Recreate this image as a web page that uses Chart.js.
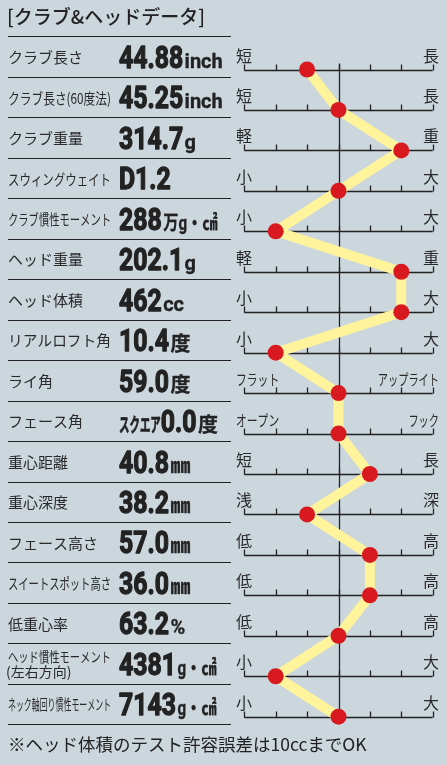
<!DOCTYPE html>
<html><head><meta charset="utf-8">
<script src="https://cdn.jsdelivr.net/npm/chart.js@4.4.1/dist/chart.umd.min.js"></script>
<style>
html,body{margin:0;padding:0;background:#cbd6dd;}
#wrap{position:relative;width:447px;height:765px;}
</style></head>
<body><div id="wrap"><canvas id="c" width="447" height="765"></canvas></div>
<script>
const TITLE = "[クラブ&ヘッドデータ]";
const NOTE = "※ヘッド体積のテスト許容誤差は10ccまでOK";
const categories = ["クラブ長さ","クラブ長さ(60度法)","クラブ重量","スウィングウェイト","クラブ慣性モーメント","ヘッド重量","ヘッド体積","リアルロフト角","ライ角","フェース角","重心距離","重心深度","フェース高さ","スイートスポット高さ","低重心率","ヘッド慣性モーメント\n(左右方向)","ネック軸回り慣性モーメント"];
const valuePrefixes = ["","","","","","","","","","スクエア","","","","","","",""];
const valueNumbers = ["44.88","45.25","314.7","D1.2","288","202.1","462","10.4","59.0","0.0","40.8","38.2","57.0","36.0","63.2","4381","7143"];
const valueUnits = ["inch","inch","g","","万g・㎠","g","cc","度","度","度","㎜","㎜","㎜","㎜","%","g・㎠","g・㎠"];
const leftScaleLabels = ["短","短","軽","小","小","軽","小","小","フラット","オープン","短","浅","低","低","低","小","小"];
const rightScaleLabels = ["長","長","重","大","大","重","大","大","アップライト","フック","長","深","高","高","高","大","大"];
const scores = [-1,0,2,0,-2,2,2,-2,0,0,1,-1,1,1,0,-2,0];
const tickValues = [-3,-2,-1,0,1,2,3];

const BG = "#cbd6dd", INK = "#222222";
const CJK = "'Noto Sans CJK JP'";

function drawScaled(ctx, text, x, y, sx, stroke){
  ctx.save(); ctx.translate(x, y); ctx.scale(sx, 1);
  if (stroke) { ctx.lineWidth = stroke; ctx.lineJoin = 'round'; ctx.strokeText(text, 0, 0); }
  ctx.fillText(text, 0, 0); ctx.restore();
  return ctx.measureText(text).width * sx;
}

const panelPlugin = {
  id: 'panel',
  beforeDraw(chart){
    const ctx = chart.ctx;
    ctx.save(); ctx.fillStyle = BG; ctx.fillRect(0,0,chart.width,chart.height); ctx.restore();
  },
  beforeDatasetsDraw(chart){
    const ctx = chart.ctx, xs = chart.scales.x, ys = chart.scales.y;
    const x0 = xs.getPixelForValue(tickValues[0]), x1 = xs.getPixelForValue(tickValues[tickValues.length-1]);
    ctx.save();
    ctx.strokeStyle = INK; ctx.lineWidth = 1.3;
    categories.forEach((c, i) => {
      const y = Math.round(ys.getPixelForValue(i)) + 0.5;
      ctx.beginPath(); ctx.moveTo(x0, y); ctx.lineTo(x1, y); ctx.stroke();
      tickValues.forEach(t => {
        const tx = Math.round(xs.getPixelForValue(t)) + 0.5;
        ctx.beginPath(); ctx.moveTo(tx, y); ctx.lineTo(tx, y - 6); ctx.stroke();
      });
      ctx.fillStyle = "#2a2a2a"; ctx.textBaseline = 'middle';
      const l = leftScaleLabels[i], r = rightScaleLabels[i];
      if (l.length > 1) {
        ctx.font = "15px " + CJK; ctx.textAlign = 'left';
        drawScaled(ctx, l, 236, y - 14, 0.72);
      } else { ctx.font = "16px " + CJK; ctx.textAlign = 'left'; ctx.fillText(l, 236, y - 15); }
      if (r.length > 1) {
        ctx.font = "15px " + CJK; ctx.textAlign = 'right';
        drawScaled(ctx, r, 439, y - 14, 0.68);
      } else { ctx.font = "16px " + CJK; ctx.textAlign = 'right'; ctx.fillText(r, 439, y - 15); }
    });
    const cx = Math.round(xs.getPixelForValue(0)) + 0.5;
    ctx.beginPath();
    ctx.moveTo(cx, ys.getPixelForValue(0) - 6);
    ctx.lineTo(cx, ys.getPixelForValue(categories.length - 1));
    ctx.stroke();
    ctx.restore();
  },
  afterDraw(chart){
    const ctx = chart.ctx, ys = chart.scales.y;
    ctx.save();
    ctx.fillStyle = INK; ctx.strokeStyle = INK; ctx.lineWidth = 1.2;
    ctx.font = "500 19px " + CJK; ctx.textBaseline = 'middle'; ctx.textAlign = 'left';
    ctx.fillText(TITLE, 7, 17);
    const top = Math.round(ys.getPixelForValue(0) - 33.5) + 0.5;
    ctx.beginPath(); ctx.moveTo(8, top); ctx.lineTo(231, top); ctx.stroke();
    categories.forEach((c, i) => {
      const ay = ys.getPixelForValue(i);
      const cy = ay - 13;
      const dy = Math.round(ay + 7.5) + 0.5;
      ctx.lineWidth = 1.2; ctx.strokeStyle = INK;
      ctx.beginPath(); ctx.moveTo(8, dy); ctx.lineTo(231, dy); ctx.stroke();
      ctx.fillStyle = "#2a2a2a"; ctx.textAlign = 'left'; ctx.textBaseline = 'middle';
      const lines = c.split("\n");
      if (lines.length > 1) {
        ctx.font = "14px " + CJK;
        ctx.fillText(lines[0], 8, cy - 7, 103);
        ctx.fillText(lines[1], 6, cy + 8, 103);
      } else {
        ctx.font = "15px " + CJK;
        ctx.fillText(c, 8, cy + 1, 103);
      }
      ctx.fillStyle = INK; ctx.strokeStyle = INK; ctx.textBaseline = 'alphabetic';
      let x = 119; const base = cy + 11.5;
      if (valuePrefixes[i]) { ctx.font = "bold 19px " + CJK; x += drawScaled(ctx, valuePrefixes[i], x, base, 0.55, 0.6); }
      ctx.font = "bold 31px Roboto";
      x += drawScaled(ctx, valueNumbers[i], x, base, 0.8, 1.3) + 1.5;
      const u = valueUnits[i];
      if (u) {
        ctx.font = "bold 20px Roboto, " + CJK;
        drawScaled(ctx, u, x, base, u.indexOf("・") >= 0 ? 0.76 : 1.0, 0.3);
      }
    });
    ctx.fillStyle = INK; ctx.font = "17.5px " + CJK; ctx.textBaseline = 'middle'; ctx.textAlign = 'left';
    ctx.fillText(NOTE, 8, 744);
    ctx.restore();
  }
};

new Chart(document.getElementById('c'), {
  type: 'line',
  data: {
    labels: categories,
    datasets: [{
      data: scores,
      borderColor: '#fff49c',
      borderWidth: 10,
      borderJoinStyle: 'round',
      pointRadius: 8,
      pointHoverRadius: 8,
      pointBackgroundColor: '#d81a20',
      pointBorderWidth: 0,
      tension: 0,
      clip: false
    }]
  },
  options: {
    indexAxis: 'y',
    responsive: false,
    animation: false,
    devicePixelRatio: 1,
    layout: { padding: { left: 244.3, right: 14.3, top: 69.5, bottom: 48.3 } },
    scales: {
      x: { type: 'linear', min: -3, max: 3, display: false },
      y: { type: 'category', offset: false, display: false }
    },
    plugins: { legend: { display: false }, tooltip: { enabled: false } },
    events: []
  },
  plugins: [panelPlugin]
});
</script></body></html>
